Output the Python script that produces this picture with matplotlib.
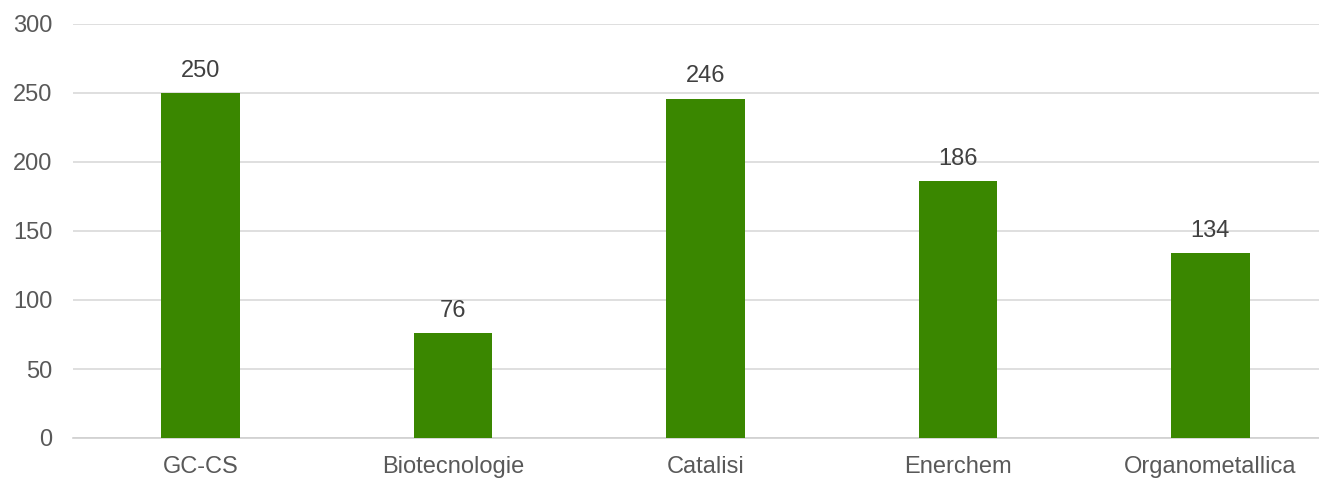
import matplotlib.pyplot as plt

# data
categories = ['GC-CS', 'Biotecnologie', 'Catalisi', 'Enerchem', 'Organometallica']
values = [250, 76, 246, 186, 134]
yticks = [0, 50, 100, 150, 200, 250, 300]

plt.rcParams['font.family'] = ['Liberation Sans', 'DejaVu Sans']

W, H = 1319, 480
fig = plt.figure(figsize=(W / 100, H / 100), dpi=100)
left, right, bottom, top = 73, 1319, 438, 24
ax = fig.add_axes([left / W, (H - bottom) / H, (right - left) / W, (bottom - top) / H])

x = list(range(len(categories)))
bars = ax.bar(x, values, width=0.31, color='#3A8700', zorder=3)

for b, v in zip(bars, values):
    ax.text(b.get_x() + b.get_width() / 2, v + 8, str(v), ha='center', va='bottom',
            fontsize=17, color='#404040')

ax.set_ylim(0, 300)
ax.set_xlim(-0.505, 4.43)
ax.set_yticks(yticks)
ax.set_xticks(x)
ax.set_xticklabels(categories)
ax.grid(axis='y', color='#D9D9D9', linewidth=1.2, zorder=0)
for side in ['top', 'right', 'left']:
    ax.spines[side].set_visible(False)
ax.spines['bottom'].set_color('#D0D0D0')
ax.spines['bottom'].set_linewidth(1.2)
ax.tick_params(axis='both', length=0, labelsize=17, colors='#595959')
ax.tick_params(axis='y', pad=15)
ax.tick_params(axis='x', pad=13)

fig.savefig('out.png', dpi=100)
